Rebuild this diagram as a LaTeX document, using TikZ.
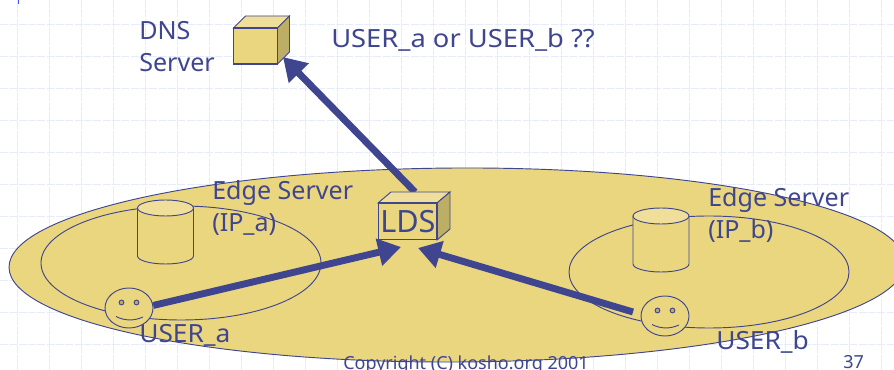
\documentclass[tikz,border=0pt]{standalone}
\usepackage{fontspec}
\setmainfont{Noto Sans}
\newfontfamily\wideface{Noto Sans}[FakeStretch=1.09]
\newfontfamily\midface{Noto Sans}[FakeStretch=1.05]
\usetikzlibrary{arrows.meta,shapes.geometric}
\definecolor{ink}{HTML}{3F468F}
\definecolor{sand}{HTML}{EBD680}
\definecolor{sandlt}{HTML}{F0DF9B}
\definecolor{sanddk}{HTML}{BDAE66}
\definecolor{gridc}{HTML}{E6ECFA}
\tikzset{
  x=0.75pt,y=-0.75pt,
  outl/.style={draw=ink,line width=0.7pt},
  label/.style={inner sep=0pt,anchor=base west,text=ink,font=\fontsize{18.8}{20}\selectfont},
  wide/.style={inner sep=0pt,anchor=base west,text=ink,font=\wideface\fontsize{18.8}{20}\selectfont},
  mid/.style={inner sep=0pt,anchor=base west,text=ink,font=\midface\fontsize{18.8}{20}\selectfont},
  small/.style={inner sep=0pt,anchor=base west,text=ink,font=\fontsize{13.5}{15}\selectfont},
  flow/.style={draw=ink,line width=5.2pt,-{Triangle[length=17pt,width=20pt]}},
  face/.style={ellipse,outl,fill=sand,inner sep=0pt,minimum width=36pt,minimum height=30pt},
  front/.style={rectangle,draw=ink,line width=0.8pt,fill=sand,inner sep=0pt},
}
\begin{document}
\begin{tikzpicture}
\useasboundingbox (0,0) rectangle (894,370);
\clip (0,0) rectangle (894,370);
\fill[white] (0,0) rectangle (894,370);
% background grid
\foreach \gx in {17.5,49.5,...,881.5} \draw[gridc,line width=0.6pt,dash pattern=on 6pt off 1pt] (\gx,0) -- (\gx,370);
\foreach \gy in {24,56,...,344} \draw[gridc,line width=0.6pt,dash pattern=on 6pt off 1pt] (0,\gy) -- (894,\gy);
\draw[blue!70!white,line width=0.6pt] (18,0) -- (18,4);
% domain ellipses
\draw[outl,fill=sand,rotate around={0.3:(457,265)}] (457,265) ellipse [x radius=448,y radius=97];
\draw[outl] (181,263) ellipse [x radius=140,y radius=57];
\draw[outl] (709,272) ellipse [x radius=140,y radius=56];
% cylinders
\foreach \cx/\cy in {165.5/208,661/216}{
  \draw[outl,fill=sand] (\cx-28,\cy) -- (\cx-28,\cy+48) arc[start angle=180,end angle=0,x radius=28,y radius=8] -- (\cx+28,\cy) -- cycle;
  \draw[outl,fill=sandlt] (\cx,\cy) ellipse [x radius=28,y radius=8];
}
% faces
\node[face] (facea) at (129,308) {};
\node[face] (faceb) at (665,316) {};
\foreach \fx/\fy in {129/308,665/316}{
  \draw[outl,fill=sanddk] (\fx-7.5,\fy-5.5) circle [radius=2.4];
  \draw[outl,fill=sanddk] (\fx+7.5,\fy-5.5) circle [radius=2.4];
  \draw[outl] (\fx-13,\fy+8.5) .. controls (\fx-4,\fy+13) and (\fx+5,\fy+13) .. (\fx+14,\fy+9);
}
% free arrow ends
\coordinate (tipa) at (401,247);
\coordinate (tipb) at (418,248);
\coordinate (tipd) at (283,57);
\coordinate (ldstop) at (415,192);
\coordinate (startb) at (633,312);
\draw[flow] (ldstop) -- (tipd);
\draw[flow] (facea.6) -- (tipa);
\draw[flow] (startb) -- (tipb);
% DNS cube
\draw[outl,fill=sandlt] (233.5,28) -- (245.5,16) -- (289.5,16) -- (277.5,28) -- cycle;
\draw[outl,fill=sanddk] (277.5,28) -- (289.5,16) -- (289.5,52) -- (277.5,64) -- cycle;
\node[front,minimum width=33pt,minimum height=27pt] (dns) at (255.5,46) {};
% LDS cube
\draw[outl,fill=sandlt] (378,203) -- (391,192) -- (450,192) -- (437,203) -- cycle;
\draw[outl,fill=sanddk] (437,203) -- (450,192) -- (450,229) -- (437,240) -- cycle;
\node[front,minimum width=44.2pt,minimum height=27.7pt] (lds) at (407.5,221.5) {};
% labels
\node[label] (t1) at (139,40) {DNS};
\node[label] (t2) at (139,72) {Server};
\node[wide] (t3) at (331,48) {USER\_a or USER\_b ??};
\node[label] (t4) at (212,200) {Edge Server};
\node[label] (t5) at (212,232) {(IP\_a)};
\node[label] (t6) at (708,207) {Edge Server};
\node[label] (t7) at (708,239) {(IP\_b)};
\node[mid] (t8) at (139,343) {USER\_a};
\node[mid] (t9) at (716,350) {USER\_b};
\node[label,font=\fontsize{23}{25}\selectfont] (t10) at (380,233) {LDS};
\node[small] (t11) at (343,369.5) {Copyright (C) kosho.org 2001};
\node[small] (t12) at (843,369) {37};
\end{tikzpicture}
\end{document}
